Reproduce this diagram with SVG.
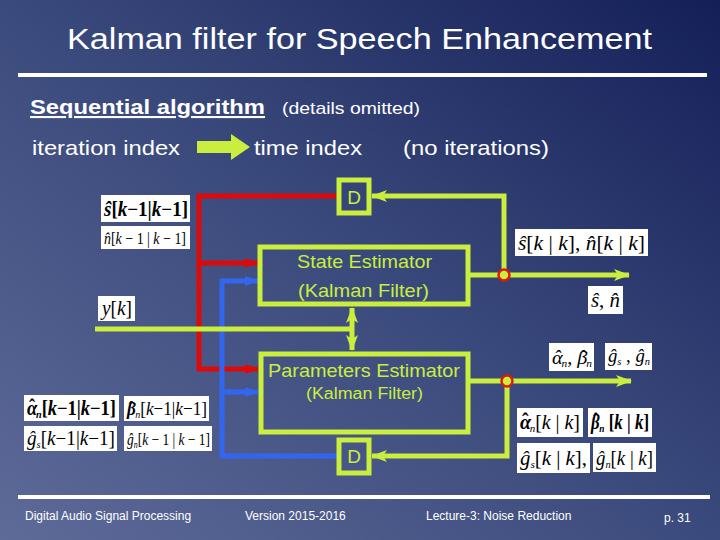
<svg xmlns="http://www.w3.org/2000/svg" width="720" height="540" viewBox="0 0 720 540">
<defs>
<linearGradient id="bg" x1="0" y1="1" x2="1" y2="0">
<stop offset="0" stop-color="#5e6b99"/>
<stop offset="0.5" stop-color="#3b4a7c"/>
<stop offset="1" stop-color="#141f58"/>
</linearGradient>
<marker id="aRed" markerUnits="userSpaceOnUse" markerWidth="14" markerHeight="12" refX="13" refY="6" orient="auto"><path d="M0,1 L14,6 L0,11 Z" fill="#dd0a0a"/></marker>
<marker id="aBlue" markerUnits="userSpaceOnUse" markerWidth="14" markerHeight="12" refX="13" refY="6" orient="auto"><path d="M0,1 L14,6 L0,11 Z" fill="#3366ee"/></marker>
<marker id="aLime" markerUnits="userSpaceOnUse" markerWidth="16" markerHeight="14" refX="15" refY="7" orient="auto-start-reverse"><path d="M0,1 L16,7 L0,13 L4,7 Z" fill="#c9ee3d"/></marker>
</defs>
<style>
.t{font-family:"Liberation Sans",Arial,sans-serif;fill:#ffffff}
.g{font-family:"Liberation Sans",Arial,sans-serif;fill:#c9ee3d}
.box{fill:none;stroke:#c9ee3d;stroke-width:5}
.m{font-family:"Liberation Serif","Times New Roman",serif;fill:#000000}
.lbl{fill:#ffffff}
.red{fill:none;stroke:#dd0a0a;stroke-width:5}
.blue{fill:none;stroke:#3366ee;stroke-width:5}
.lime{fill:none;stroke:#c9ee3d;stroke-width:5}
.j{fill:#c9ee3d;stroke:#dd1a0a;stroke-width:2.5}
</style>
<rect width="720" height="540" fill="url(#bg)"/>

<text class="t" x="67" y="49" font-size="30" textLength="585" lengthAdjust="spacingAndGlyphs">Kalman filter for Speech Enhancement</text>
<rect x="18" y="73" width="689" height="4" fill="#ffffff"/>

<text class="t" x="30" y="114" font-size="21" font-weight="bold" text-decoration="underline" textLength="235" lengthAdjust="spacingAndGlyphs">Sequential algorithm</text>
<text class="t" x="282" y="114" font-size="17" textLength="138" lengthAdjust="spacingAndGlyphs">(details omitted)</text>
<text class="t" x="32" y="155" font-size="21" textLength="148" lengthAdjust="spacingAndGlyphs">iteration index</text>
<path d="M197,141 H231 V134 L250,147 L231,160 V153 H197 Z" fill="#c9ee3d"/>
<text class="t" x="254" y="155" font-size="21" textLength="108" lengthAdjust="spacingAndGlyphs">time index</text>
<text class="t" x="403" y="155" font-size="21" textLength="146" lengthAdjust="spacingAndGlyphs">(no iterations)</text>

<g id="connectors">
<path class="red" d="M337,196 H199 V369 H258" marker-end="url(#aRed)"/>
<path class="red" d="M199,263 H258" marker-end="url(#aRed)"/>
<path class="blue" d="M338,456 H222 V281 H258" marker-end="url(#aBlue)"/>
<path class="blue" d="M222,392 H258" marker-end="url(#aBlue)"/>
<path class="lime" d="M95,329 H352"/>
<path class="lime" d="M352,308 V350" marker-start="url(#aLime)" marker-end="url(#aLime)"/>
<path class="lime" d="M469,275 H629" marker-end="url(#aLime)"/>
<path class="lime" d="M504,275 V196 H372" marker-end="url(#aLime)"/>
<path class="lime" d="M469,381 H631" marker-end="url(#aLime)"/>
<path class="lime" d="M507,381 V456 H372" marker-end="url(#aLime)"/>
<circle class="j" cx="504" cy="275" r="5.5"/>
<circle class="j" cx="507" cy="381" r="5.5"/>
</g>

<g id="delay-top">
<rect class="box" x="339" y="180" width="30" height="33"/>
<text class="g" x="354" y="204" font-size="19" text-anchor="middle">D</text>
</g>

<g id="state-estimator">
<rect class="box" x="260" y="247" width="208" height="57"/>
<text class="g" x="297" y="268" font-size="19" textLength="135" lengthAdjust="spacingAndGlyphs">State Estimator</text>
<text class="g" x="298" y="297" font-size="19" textLength="131" lengthAdjust="spacingAndGlyphs">(Kalman Filter)</text>
</g>

<g id="parameters-estimator">
<rect class="box" x="261" y="354" width="207" height="78"/>
<text class="g" x="268" y="377" font-size="19" textLength="192" lengthAdjust="spacingAndGlyphs">Parameters Estimator</text>
<text class="g" x="306" y="399" font-size="16" textLength="117" lengthAdjust="spacingAndGlyphs">(Kalman Filter)</text>
</g>

<g id="delay-bottom">
<rect class="box" x="339" y="440" width="30" height="33"/>
<text class="g" x="354" y="463" font-size="19" text-anchor="middle">D</text>
</g>

<g id="labels">
<rect class="lbl" x="101" y="195" width="89" height="27"/>
<text class="m" x="104" y="216" font-size="20" font-weight="bold" textLength="84" lengthAdjust="spacingAndGlyphs"><tspan font-style="italic">ŝ</tspan>[<tspan font-style="italic">k</tspan>−1|<tspan font-style="italic">k</tspan>−1]</text>
<rect class="lbl" x="101" y="226" width="89" height="23"/>
<text class="m" x="104" y="244" font-size="17" textLength="82" lengthAdjust="spacingAndGlyphs"><tspan font-style="italic">n̂</tspan>[<tspan font-style="italic">k</tspan> − 1 | <tspan font-style="italic">k</tspan> − 1]</text>

<rect class="lbl" x="98" y="296" width="37" height="25"/>
<text class="m" x="102" y="315" font-size="20" font-style="italic" textLength="30" lengthAdjust="spacingAndGlyphs">y<tspan font-style="normal">[</tspan>k<tspan font-style="normal">]</tspan></text>

<rect class="lbl" x="515" y="229" width="133" height="27"/>
<text class="m" x="518" y="250" font-size="20" textLength="127" lengthAdjust="spacingAndGlyphs"><tspan font-style="italic">ŝ</tspan>[<tspan font-style="italic">k</tspan> | <tspan font-style="italic">k</tspan>], <tspan font-style="italic">n̂</tspan>[<tspan font-style="italic">k</tspan> | <tspan font-style="italic">k</tspan>]</text>

<rect class="lbl" x="588" y="286" width="35" height="28"/>
<text class="m" x="591" y="307" font-size="20" textLength="29" lengthAdjust="spacingAndGlyphs"><tspan font-style="italic">ŝ</tspan>, <tspan font-style="italic">n̂</tspan></text>

<rect class="lbl" x="549" y="343" width="45" height="28"/>
<text class="m" x="552" y="364" font-size="18" font-style="italic" textLength="40" lengthAdjust="spacingAndGlyphs">α<tspan dx="-8" dy="-1">ˆ</tspan><tspan font-size="10" dx="1" dy="4">n</tspan><tspan dy="-3" font-style="normal">, </tspan>β<tspan dx="-8" dy="-1">ˆ</tspan><tspan font-size="10" dx="1" dy="4">n</tspan></text>
<rect class="lbl" x="605" y="343" width="47" height="27"/>
<text class="m" x="608" y="362" font-size="18" font-style="italic" textLength="42" lengthAdjust="spacingAndGlyphs">ĝ<tspan font-size="10" dy="3">s</tspan><tspan dy="-3" font-style="normal"> , </tspan>ĝ<tspan font-size="10" dy="3">n</tspan></text>

<rect class="lbl" x="517" y="408" width="66" height="29"/>
<text class="m" x="520" y="429" font-size="20" textLength="60" lengthAdjust="spacingAndGlyphs"><tspan font-style="italic" font-weight="bold">α</tspan><tspan font-weight="bold" dx="-9" dy="-1">ˆ</tspan><tspan font-size="11" font-style="italic" dx="1" dy="4">n</tspan><tspan dy="-3">[</tspan><tspan font-style="italic">k</tspan> | <tspan font-style="italic">k</tspan>]</text>
<rect class="lbl" x="588" y="408" width="64" height="29"/>
<text class="m" x="591" y="429" font-size="20" font-weight="bold" textLength="58" lengthAdjust="spacingAndGlyphs"><tspan font-style="italic">β</tspan><tspan dx="-8" dy="-1">ˆ</tspan><tspan font-size="11" font-style="italic" dx="1" dy="4">n</tspan><tspan dy="-3"> [</tspan><tspan font-style="italic">k</tspan> | <tspan font-style="italic">k</tspan>]</text>
<rect class="lbl" x="517" y="443" width="73" height="30"/>
<text class="m" x="520" y="465" font-size="20" textLength="67" lengthAdjust="spacingAndGlyphs"><tspan font-style="italic">ĝ</tspan><tspan font-size="11" font-style="italic" dy="3">s</tspan><tspan dy="-3">[</tspan><tspan font-style="italic">k</tspan> | <tspan font-style="italic">k</tspan>],</text>
<rect class="lbl" x="593" y="443" width="63" height="29"/>
<text class="m" x="596" y="465" font-size="20" textLength="57" lengthAdjust="spacingAndGlyphs"><tspan font-style="italic">ĝ</tspan><tspan font-size="11" font-style="italic" dy="3">n</tspan><tspan dy="-3">[</tspan><tspan font-style="italic">k</tspan> | <tspan font-style="italic">k</tspan>]</text>

<rect class="lbl" x="24" y="395" width="95" height="26"/>
<text class="m" x="27" y="415" font-size="20" font-weight="bold" textLength="89" lengthAdjust="spacingAndGlyphs"><tspan font-style="italic">α</tspan><tspan dx="-9" dy="-1">ˆ</tspan><tspan font-size="11" font-style="italic" dx="1" dy="4">n</tspan><tspan dy="-3">[</tspan><tspan font-style="italic">k</tspan>−1|<tspan font-style="italic">k</tspan>−1]</text>
<rect class="lbl" x="124" y="396" width="85" height="25"/>
<text class="m" x="127" y="415" font-size="19" textLength="80" lengthAdjust="spacingAndGlyphs"><tspan font-style="italic" font-weight="bold">β</tspan><tspan font-weight="bold" dx="-8" dy="-1">ˆ</tspan><tspan font-size="11" font-style="italic" dx="1" dy="4">n</tspan><tspan dy="-3">[</tspan><tspan font-style="italic">k</tspan>−1|<tspan font-style="italic">k</tspan>−1]</text>
<rect class="lbl" x="24" y="426" width="93" height="25"/>
<text class="m" x="27" y="445" font-size="20" textLength="88" lengthAdjust="spacingAndGlyphs"><tspan font-style="italic">ĝ</tspan><tspan font-size="11" font-style="italic" dy="3">s</tspan><tspan dy="-3">[</tspan><tspan font-style="italic">k</tspan>−1|<tspan font-style="italic">k</tspan>−1]</text>
<rect class="lbl" x="124" y="426" width="88" height="25"/>
<text class="m" x="127" y="445" font-size="17" textLength="83" lengthAdjust="spacingAndGlyphs"><tspan font-style="italic">ĝ</tspan><tspan font-size="10" font-style="italic" dy="3">n</tspan><tspan dy="-3">[</tspan><tspan font-style="italic">k</tspan> − 1 | <tspan font-style="italic">k</tspan> − 1]</text>
</g>

<rect x="18" y="495" width="692" height="4" fill="#ffffff"/>
<text class="t" x="25" y="520" font-size="12">Digital Audio Signal Processing</text>
<text class="t" x="245" y="520" font-size="12">Version 2015-2016</text>
<text class="t" x="426" y="520" font-size="12">Lecture-3: Noise Reduction</text>
<text class="t" x="664" y="522" font-size="12">p. 31</text>
</svg>
